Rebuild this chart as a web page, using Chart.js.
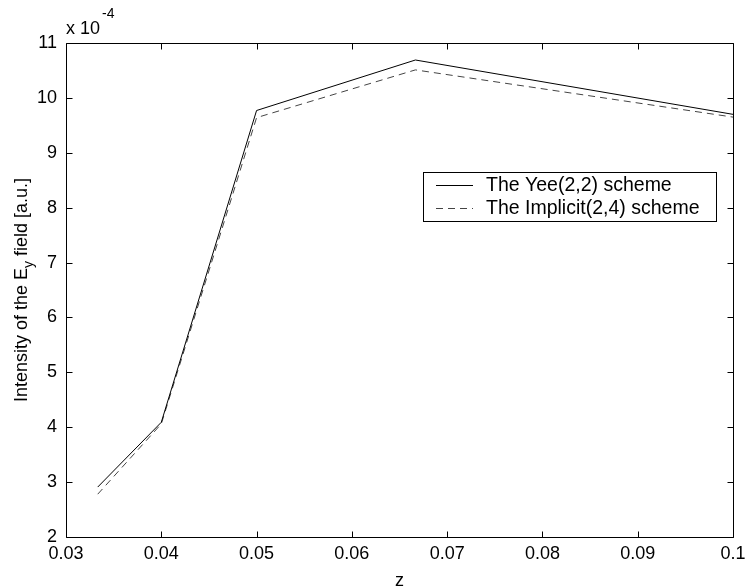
<!DOCTYPE html>
<html lang="en">
<head>
<meta charset="UTF-8">
<title>Intensity of the Ey field</title>
<script src="https://cdn.jsdelivr.net/npm/chart.js@4.4.0/dist/chart.umd.min.js"></script>
<style>
    html, body { margin: 0; padding: 0; background: #fff; }
</style>
</head>
<body>
<canvas id="myChart" width="745" height="588"></canvas>
<script>
    // z positions and field intensity (units of 1e-4)
    var zValues = [0.03333, 0.04, 0.05, 0.06667, 0.1];
    var yeeValues = [2.91, 4.09, 9.77, 10.69, 9.70];
    var implicitValues = [2.78, 4.06, 9.64, 10.51, 9.65];

    var seriesNames = ['The Yee(2,2) scheme', 'The Implicit(2,4) scheme'];
    var xTicks = [0.03, 0.04, 0.05, 0.06, 0.07, 0.08, 0.09, 0.1];
    var xTickLabels = ['0.03', '0.04', '0.05', '0.06', '0.07', '0.08', '0.09', '0.1'];
    var yTicks = [2, 3, 4, 5, 6, 7, 8, 9, 10, 11];
    var yTickLabels = ['2', '3', '4', '5', '6', '7', '8', '9', '10', '11'];

    var FONT = "'Liberation Sans', Arial, sans-serif";
    Chart.defaults.font.family = FONT;
    Chart.defaults.font.size = 18;
    Chart.defaults.color = '#000';

    function points(ys) {
        return zValues.map(function (z, i) { return {x: z, y: ys[i]}; });
    }

    // box around the plot with inward tick marks on all four sides
    var framePlugin = {
        id: 'frame',
        afterDraw: function (chart) {
            var ctx = chart.ctx, a = chart.chartArea;
            var xs = chart.scales.x, ys = chart.scales.y;
            var L = Math.round(a.left) + 0.5, R = Math.round(a.right) + 0.5;
            var T = Math.round(a.top) + 0.5, B = Math.round(a.bottom) + 0.5;
            var len = 6;
            ctx.save();
            ctx.strokeStyle = '#000';
            ctx.lineWidth = 1;
            ctx.beginPath();
            ctx.rect(L, T, R - L, B - T);
            xs.ticks.forEach(function (t) {
                var px = Math.round(xs.getPixelForValue(t.value)) + 0.5;
                ctx.moveTo(px, B); ctx.lineTo(px, B - len);
                ctx.moveTo(px, T); ctx.lineTo(px, T + len);
            });
            ys.ticks.forEach(function (t) {
                var py = Math.round(ys.getPixelForValue(t.value)) + 0.5;
                ctx.moveTo(L, py); ctx.lineTo(L + len, py);
                ctx.moveTo(R, py); ctx.lineTo(R - len, py);
            });
            ctx.stroke();
            ctx.restore();
        }
    };

    // boxed legend inside the plot
    var legendPlugin = {
        id: 'boxLegend',
        afterDraw: function (chart) {
            var ctx = chart.ctx;
            var bx = 423.5, by = 172.5, bw = 293, bh = 49;
            ctx.save();
            ctx.fillStyle = '#fff';
            ctx.fillRect(bx, by, bw, bh);
            ctx.strokeStyle = '#000';
            ctx.lineWidth = 1;
            ctx.strokeRect(bx, by, bw, bh);
            ctx.font = '19.5px ' + FONT;
            ctx.textBaseline = 'middle';
            ctx.textAlign = 'left';
            chart.data.datasets.forEach(function (ds, i) {
                var cy = Math.round(185 + i * 22.5) + 0.5;
                ctx.beginPath();
                ctx.strokeStyle = ds.borderColor;
                ctx.setLineDash(ds.borderDash || []);
                ctx.moveTo(436, cy);
                ctx.lineTo(473, cy);
                ctx.stroke();
                ctx.setLineDash([]);
                ctx.fillStyle = '#000';
                ctx.fillText(ds.label, 486, cy);
            });
            ctx.restore();
        }
    };

    // axis titles and the exponent note
    var titlePlugin = {
        id: 'titles',
        afterDraw: function (chart) {
            var ctx = chart.ctx, a = chart.chartArea;
            ctx.save();
            ctx.fillStyle = '#000';
            ctx.textBaseline = 'alphabetic';

            // x title
            ctx.font = '18px ' + FONT;
            ctx.textAlign = 'center';
            ctx.fillText('z', (a.left + a.right) / 2, 586);

            // multiplier
            ctx.textAlign = 'left';
            ctx.fillText('x 10', 66, 34);
            var w = ctx.measureText('x 10').width;
            ctx.font = '14px ' + FONT;
            ctx.fillText('-4', 66 + w + 2, 18);

            // y title with subscript
            var p1 = 'Intensity of the E', sub = 'y', p2 = ' field [a.u.]';
            ctx.font = '18px ' + FONT;
            var w1 = ctx.measureText(p1).width, w3 = ctx.measureText(p2).width;
            ctx.font = '14px ' + FONT;
            var w2 = ctx.measureText(sub).width;
            var total = w1 + w2 + w3;
            ctx.translate(27, (a.top + a.bottom) / 2);
            ctx.rotate(-Math.PI / 2);
            var x0 = -total / 2;
            ctx.font = '18px ' + FONT;
            ctx.fillText(p1, x0, 0);
            ctx.font = '14px ' + FONT;
            ctx.fillText(sub, x0 + w1, 6);
            ctx.font = '18px ' + FONT;
            ctx.fillText(p2, x0 + w1 + w2, 0);
            ctx.restore();
        }
    };

    var ctx = document.querySelector('#myChart').getContext('2d');
    new Chart(ctx, {
        type: 'line',
        data: {
            datasets: [{
                label: seriesNames[0],
                data: points(yeeValues),
                borderColor: '#000',
                borderWidth: 1,
                pointRadius: 0,
                tension: 0,
                fill: false
            }, {
                label: seriesNames[1],
                data: points(implicitValues),
                borderColor: '#444',
                borderWidth: 1,
                borderDash: [7, 5],
                pointRadius: 0,
                tension: 0,
                fill: false
            }]
        },
        options: {
            responsive: false,
            animation: false,
            layout: {padding: {top: 43, right: 12, bottom: 0, left: 0}},
            plugins: {legend: {display: false}, tooltip: {enabled: false}},
            scales: {
                x: {
                    type: 'linear',
                    min: 0.03,
                    max: 0.1,
                    grid: {display: false, drawTicks: false},
                    border: {display: false},
                    afterBuildTicks: function (scale) {
                        scale.ticks = xTicks.map(function (v) { return {value: v}; });
                    },
                    afterFit: function (scale) {
                        scale.height = 51;
                        scale.paddingLeft = 0;
                        scale.paddingRight = 0;
                    },
                    ticks: {
                        padding: 6,
                        maxRotation: 0,
                        autoSkip: false,
                        callback: function (v, i) { return xTickLabels[i]; }
                    }
                },
                y: {
                    min: 2,
                    max: 11,
                    grid: {display: false, drawTicks: false},
                    border: {display: false},
                    afterBuildTicks: function (scale) {
                        scale.ticks = yTicks.map(function (v) { return {value: v}; });
                    },
                    afterFit: function (scale) {
                        scale.width = 66;
                        scale.paddingTop = 0;
                        scale.paddingBottom = 0;
                    },
                    ticks: {
                        padding: 9,
                        autoSkip: false,
                        callback: function (v, i) { return yTickLabels[i]; }
                    }
                }
            }
        },
        plugins: [framePlugin, legendPlugin, titlePlugin]
    });
</script>
</body>
</html>
